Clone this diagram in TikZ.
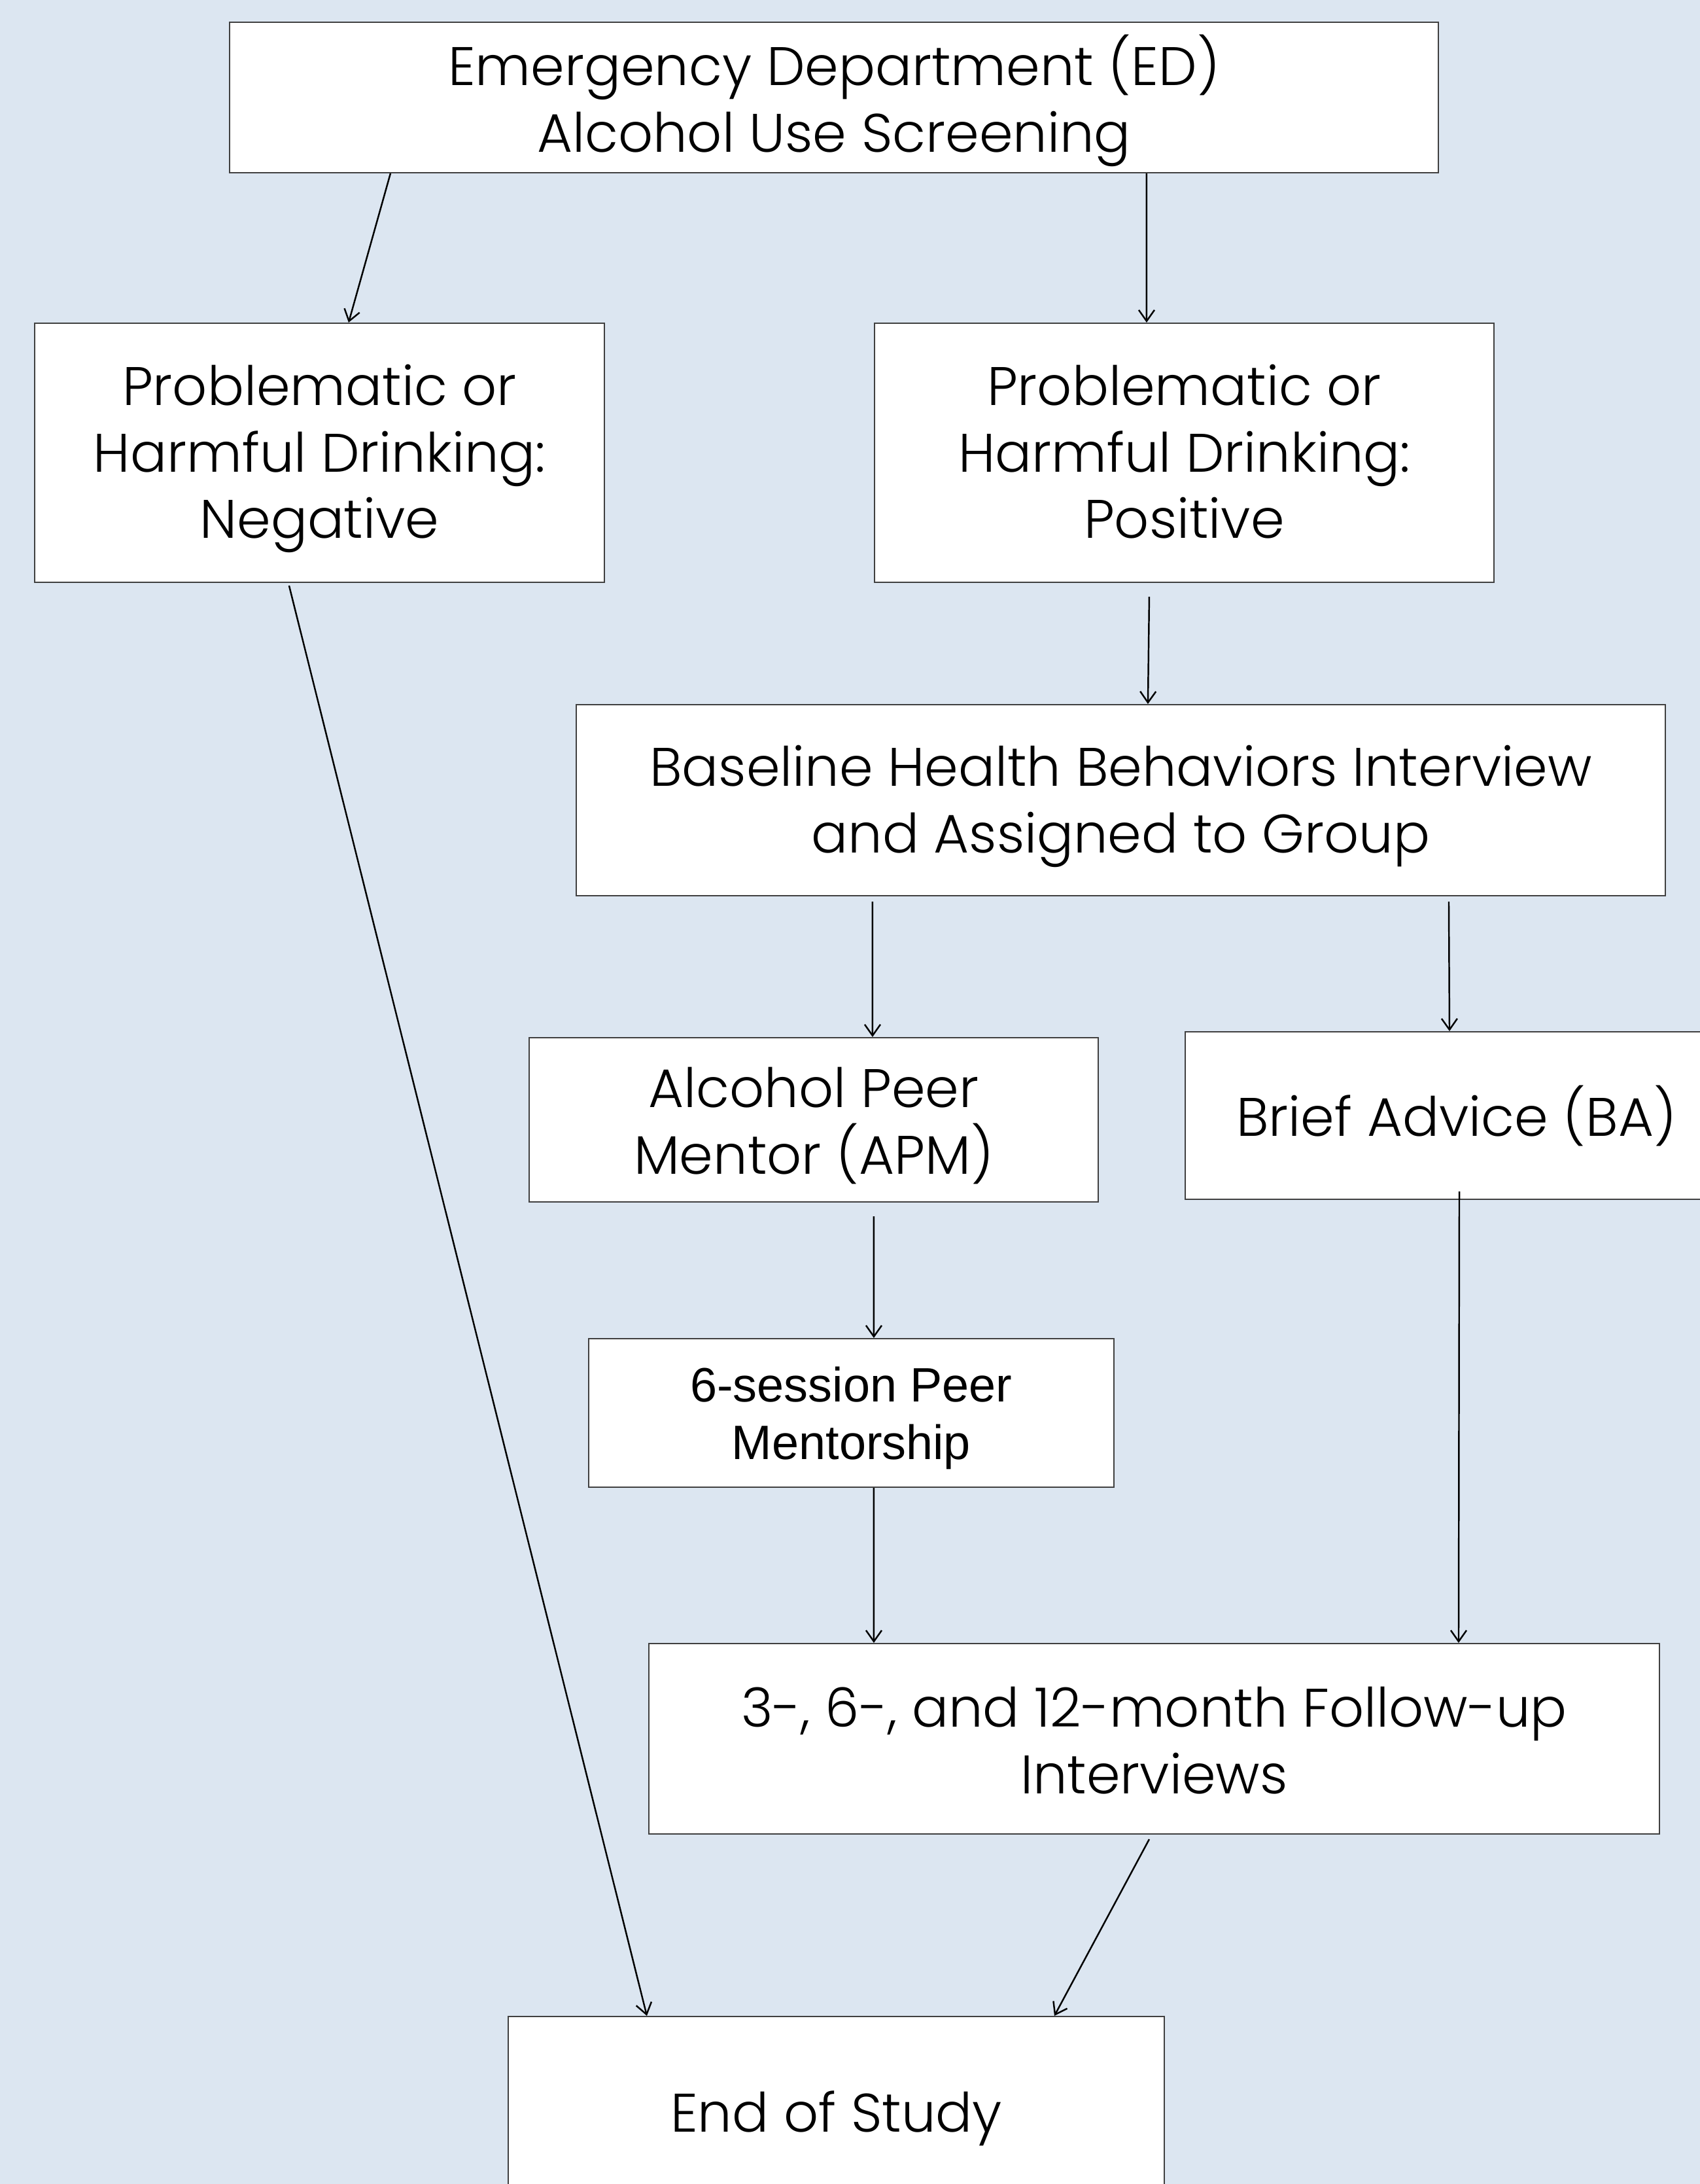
\documentclass[tikz,border=0pt]{standalone}
\usepackage{fontspec}
\setmainfont{Poppins}[UprightFont={* Light}]
\newfontfamily\arialf{Liberation Sans}
\usetikzlibrary{arrows.meta,calc}
\definecolor{bgblue}{HTML}{DCE6F1}
\definecolor{boxline}{HTML}{404040}
\begin{document}
\begin{tikzpicture}[
  box/.style={draw=boxline,line width=0.6pt,fill=white,inner sep=0pt},
  txt/.style={align=center,inner sep=0pt,yshift=-0.09cm,font=\fontsize{23.6}{29}\selectfont},
  arr/.style={draw=black,line width=0.7pt,-{Straight Barb[length=0.17cm,width=0.24cm]}}
]
\useasboundingbox (0,0) rectangle (25.99,-33.38);
\clip (0,0) rectangle (25.99,-33.38);
\fill[bgblue] (0,0) rectangle (25.99,-33.38);

\node[box,minimum width=18.48cm,minimum height=2.30cm,
  label={[txt,yshift=0.04cm]center:{Emergency Department (ED)\\Alcohol Use Screening}}] (top) at (12.75,-1.49) {};
\node[box,minimum width=8.71cm,minimum height=3.96cm,
  label={[txt]center:{Problematic or\\Harmful Drinking:\\Negative}}] (neg) at (4.885,-6.92) {};
\node[box,minimum width=9.47cm,minimum height=3.96cm,
  label={[txt]center:{Problematic or\\Harmful Drinking:\\Positive\vphantom{g}}}] (pos) at (18.105,-6.92) {};
\node[box,minimum width=16.65cm,minimum height=2.92cm,
  label={[txt]center:{Baseline Health Behaviors Interview\\and Assigned to Group}}] (base) at (17.135,-12.23) {};
\node[box,minimum width=8.70cm,minimum height=2.51cm,
  label={[txt]center:{Alcohol Peer\\Mentor (APM)}}] (apm) at (12.44,-17.115) {};
\node[box,minimum width=8.29cm,minimum height=2.56cm,anchor=west,
  label={[txt,yshift=0.085cm]center:{Brief Advice (BA)}}] (ba) at (18.11,-17.05) {};
\node[box,minimum width=8.03cm,minimum height=2.27cm,
  label={[txt,yshift=0.01cm,font=\arialf\fontsize{21}{25}\selectfont]center:{6-session Peer\\Mentorship}}] (six) at (13.015,-21.595) {};
\node[box,minimum width=15.45cm,minimum height=2.91cm,
  label={[txt,yshift=0.06cm]center:{3-, 6-, and 12-month Follow-up\\Interviews}}] (fu) at (17.645,-26.575) {};
\node[box,minimum width=10.03cm,minimum height=2.94cm,
  label={[txt]center:{End of Study}}] (end) at (12.785,-32.29) {};

\draw[arr] ([xshift=2.47cm]top.south west) -- ([xshift=4.81cm]neg.north west);
\draw[arr] ([xshift=14.03cm]top.south west) -- ([xshift=4.17cm]pos.north west);
\draw[arr] ([xshift=4.21cm,yshift=-0.21cm]pos.south west) -- ([xshift=8.75cm]base.north west);
\draw[arr] ([xshift=4.54cm,yshift=-0.08cm]base.south west) -- ([xshift=5.26cm]apm.north west);
\draw[arr] ([xshift=13.35cm,yshift=-0.08cm]base.south west) -- ([xshift=4.05cm]ba.north west);
\draw[arr] ([xshift=5.28cm,yshift=-0.21cm]apm.south west) -- ([xshift=4.37cm]six.north west);
\draw[arr] ([xshift=4.37cm]six.south west) -- ([xshift=3.45cm]fu.north west);
\draw[arr] ([xshift=4.20cm,yshift=0.13cm]ba.south west) -- ([xshift=12.39cm]fu.north west);
\draw[arr] ([xshift=3.90cm,yshift=-0.04cm]neg.south west) -- ([xshift=2.13cm]end.north west);
\draw[arr] ([xshift=7.66cm,yshift=-0.07cm]fu.south west) -- ([xshift=8.36cm]end.north west);
\end{tikzpicture}
\end{document}
